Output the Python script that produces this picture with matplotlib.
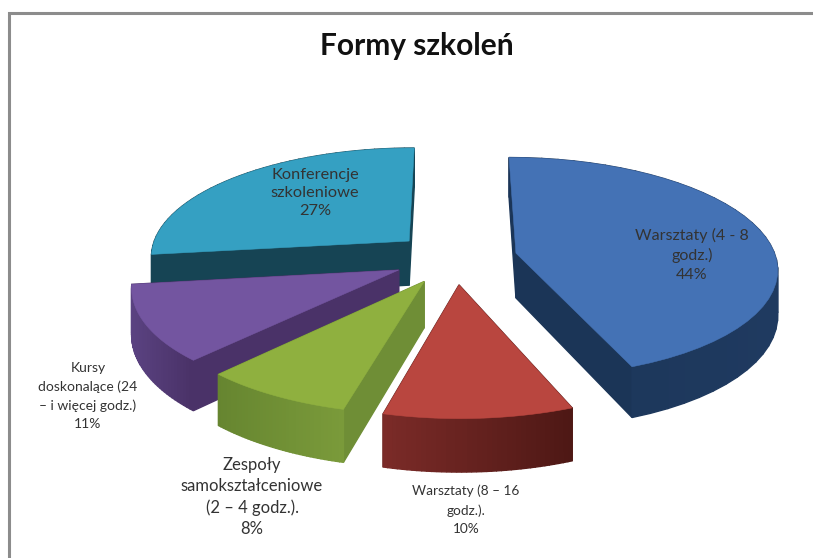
import numpy as np
from matplotlib import pyplot as plt
from matplotlib.patches import Polygon
from matplotlib.colors import to_rgb

title = "Formy szkoleń"
labels = ["Warsztaty (4 - 8\ngodz.)\n44%",
          "Warsztaty (8 – 16\ngodz.).\n10%",
          "Zespoły\nsamokształceniowe\n(2 – 4 godz.).\n8%",
          "Kursy\ndoskonalące (24\n– i więcej godz.)\n11%",
          "Konferencje\nszkoleniowe\n27%"]
values = [44, 10, 8, 11, 27]

top_colors = ["#4472b5", "#b9463f", "#8fb03f", "#7355a0", "#35a0c2"]
cut_start = ["#1b3557", "#5a1f1c", "#6f8e36", "#4a3268", "#164454"]
cut_end = ["#1b3557", "#5a1f1c", "#6f8e36", "#4a3268", "#164454"]
wall_left = ["#1b3557", "#7c2b28", "#668530", "#5b4382", "#164454"]
wall_right = ["#1f3a60", "#4e1815", "#7a9a3a", "#4a3268", "#164454"]
label_pos = [(692, 255), (466, 510), (252, 497), (88, 396), (315, 193)]
label_size = [11.5, 9.8, 12, 10, 11.8]

# projection of the flat pie on the picture, pixels
cx, cy = 455, 258
rx, ry = 260, 109
persp = 0.128
explode = 0.24
depth = 45


def project(u, v):
    s = 1 / (1 + persp * v)
    return cx + rx * u * s, cy - ry * v * s, s


def mix(c1, c2, t):
    a, b = np.array(to_rgb(c1)), np.array(to_rgb(c2))
    return a + (b - a) * t


fig = plt.figure(figsize=(8.13, 5.58), dpi=100)
ax = fig.add_axes([0, 0, 1, 1])
ax.set_xlim(0, 813)
ax.set_ylim(558, 0)
ax.axis("off")

# frame of the chart
ax.plot([9, 9, 813], [558, 13, 13], color="#8c8c8c", lw=2.2, solid_joinstyle="miter")

edges = np.cumsum([0] + values) / sum(values) * 2 * np.pi
order = [4, 3, 2, 1, 0]  # back to front

for i in order:
    a0, a1 = edges[i], edges[i + 1]
    mid = (a0 + a1) / 2
    ox, oy = explode * np.sin(mid), explode * np.cos(mid)
    ang = np.linspace(a0, a1, 40)
    proj = [project(ox, oy)]
    for a in ang:
        proj.append(project(ox + np.sin(a), oy + np.cos(a)))
    pts = np.array([(p[0], p[1]) for p in proj])
    scale = np.array([p[2] for p in proj])
    low = pts + np.column_stack([np.zeros(len(pts)), depth * scale])

    # side faces, far ones first
    faces = []
    faces.append((oy + np.cos(a0) / 2, [pts[0], pts[1], low[1], low[0]], cut_start[i]))
    faces.append((oy + np.cos(a1) / 2, [pts[0], pts[-1], low[-1], low[0]], cut_end[i]))
    n = len(pts) - 1
    xmin, xspan = pts[1:, 0].min(), np.ptp(pts[1:, 0])
    for k in range(1, n):
        col = mix(wall_left[i], wall_right[i], (pts[k, 0] - xmin) / xspan)
        faces.append((oy + np.cos(ang[k - 1]), [pts[k], pts[k + 1], low[k + 1], low[k]], col))
    faces.sort(key=lambda f: -f[0])
    z = 2 + order.index(i) * 2
    for _, quad, col in faces:
        ax.add_patch(Polygon(quad, closed=True, facecolor=col, edgecolor=col, lw=1.0, zorder=z))
    ax.add_patch(Polygon(pts, closed=True, facecolor=top_colors[i], edgecolor=top_colors[i], lw=0.4, zorder=z + 1))

for txt, (x, y), size in zip(labels, label_pos, label_size):
    # lines stand about 20 px apart in the picture
    ax.text(x, y, txt, ha="center", va="center", fontsize=size, family="Lato", color="#333333",
            linespacing=20 / (1.22 * size), zorder=30)

ax.text(417, 46, title, ha="center", va="center", fontsize=21.5, family="Lato", fontweight="bold", color="#111111")

fig.savefig("out.png", dpi=100)
